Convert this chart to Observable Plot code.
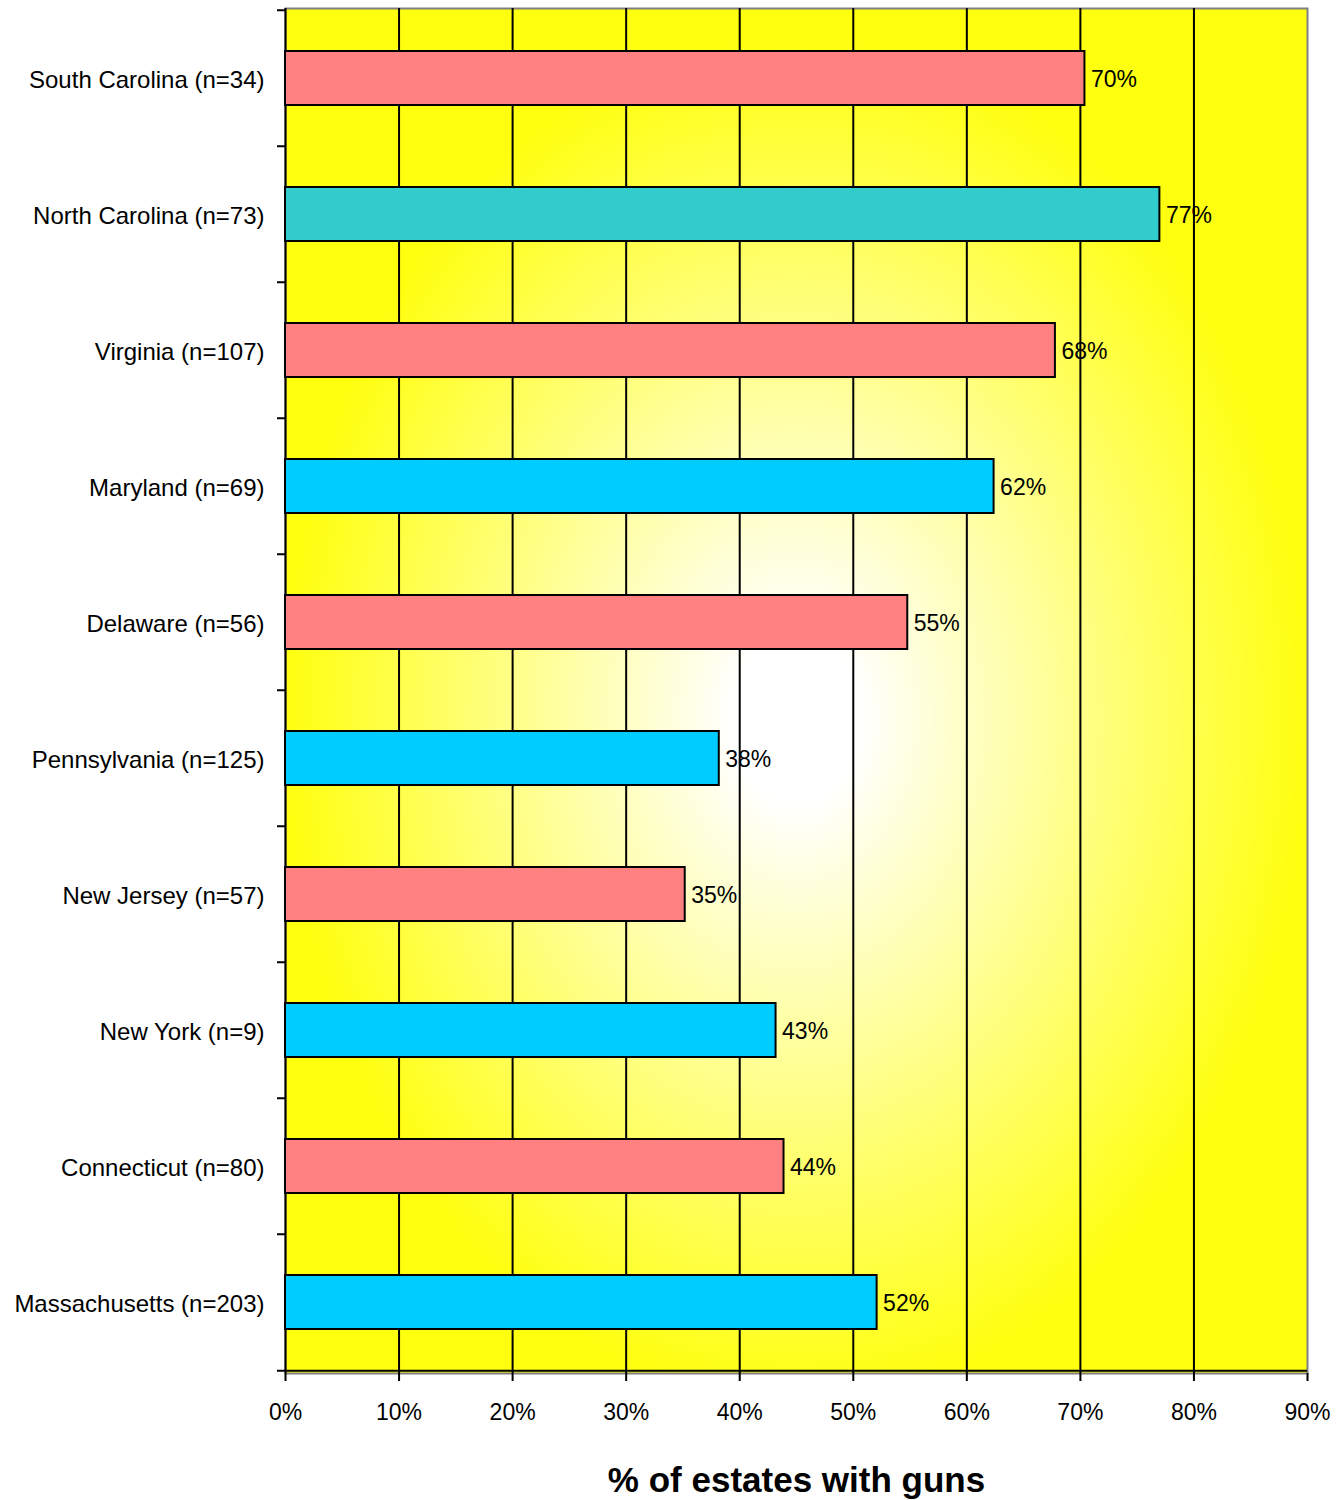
<!DOCTYPE html>
<html>
<head>
<meta charset="utf-8">
<script src="https://cdn.jsdelivr.net/npm/d3@7"></script>
<script src="https://cdn.jsdelivr.net/npm/@observablehq/plot@0.6"></script>
<style>
  body { margin: 0; background: #fff; }
  svg { font-family: "Liberation Sans", Arial, sans-serif; }
</style>
</head>
<body>
<div id="chart"></div>
<script>
const states = ["South Carolina (n=34)", "North Carolina (n=73)", "Virginia (n=107)", "Maryland (n=69)", "Delaware (n=56)", "Pennsylvania (n=125)", "New Jersey (n=57)", "New York (n=9)", "Connecticut (n=80)", "Massachusetts (n=203)"];
const values = [70.4, 77.0, 67.8, 62.4, 54.8, 38.2, 35.2, 43.2, 43.9, 52.1];
const barColors = ["#FF8080", "#33CCCC", "#FF8080", "#00CCFF", "#FF8080", "#00CCFF", "#FF8080", "#00CCFF", "#FF8080", "#00CCFF"];
const xTicks = [0, 10, 20, 30, 40, 50, 60, 70, 80, 90];
const gridTicks = [10, 20, 30, 40, 50, 60, 70, 80];
const axisTitle = "% of estates with guns";

const data = states.map((s, i) => ({state: s, value: values[i], color: barColors[i]}));

const width = 1343, height = 1500;
const marginTop = 8, marginBottom = 127, marginLeft = 285, marginRight = 36;
const step = (height - marginTop - marginBottom) / states.length;

const plot = Plot.plot({
  width, height, marginTop, marginBottom, marginLeft, marginRight,
  style: {fontSize: "23px", fontFamily: "'Liberation Sans', Arial, sans-serif", background: "white", color: "black"},
  x: {domain: [0, 90]},
  y: {domain: states, paddingInner: 0.6, paddingOuter: 0.3},
  color: {type: "identity"},
  marks: [
    Plot.frame({fill: "url(#bg)", stroke: "#808080", strokeWidth: 2}),
    Plot.ruleX(gridTicks, {stroke: "black", strokeWidth: 2}),
    Plot.ruleX([0], {stroke: "black", strokeWidth: 2}),
    Plot.ruleY(states, {y: d => d, x1: 0, x2: 0, insetLeft: -8, dy: -step / 2, stroke: "black", strokeWidth: 2}),
    Plot.ruleY([states[states.length - 1]], {y: d => d, x1: 0, x2: 90, insetLeft: -8, dy: step / 2, stroke: "black", strokeWidth: 2}),
    Plot.barX(data, {x: "value", y: "state", fill: "color", stroke: "black", strokeWidth: 2}),
    Plot.text(data, {x: "value", y: "state", text: d => Math.round(d.value) + "%", textAnchor: "start", dx: 6, dy: 1, fontSize: 23, fill: "black"}),
    Plot.axisX({ticks: xTicks, tickFormat: d => d + "%", tickSize: 8, tickPadding: 22, strokeWidth: 2, label: null, fontSize: 23}),
    Plot.axisY({tickSize: 0, tickPadding: 21, label: null, fontSize: 24, dy: 2}),
    Plot.text([axisTitle], {frameAnchor: "bottom", dy: 118, fontSize: 35, fontWeight: "bold", fill: "black"})
  ]
});

const ns = "http://www.w3.org/2000/svg";
const svg = plot.tagName.toLowerCase() === "svg" ? plot : plot.querySelector("svg");
const defs = document.createElementNS(ns, "defs");
defs.innerHTML = '<radialGradient id="bg" cx="0.5" cy="0.52" r="0.5"><stop offset="0" stop-color="#FFFFFF"/><stop offset="0.12" stop-color="#FFFFFF"/><stop offset="1" stop-color="#FFFF10"/></radialGradient>';
svg.insertBefore(defs, svg.firstChild);
document.getElementById("chart").appendChild(plot);
</script>
</body>
</html>
